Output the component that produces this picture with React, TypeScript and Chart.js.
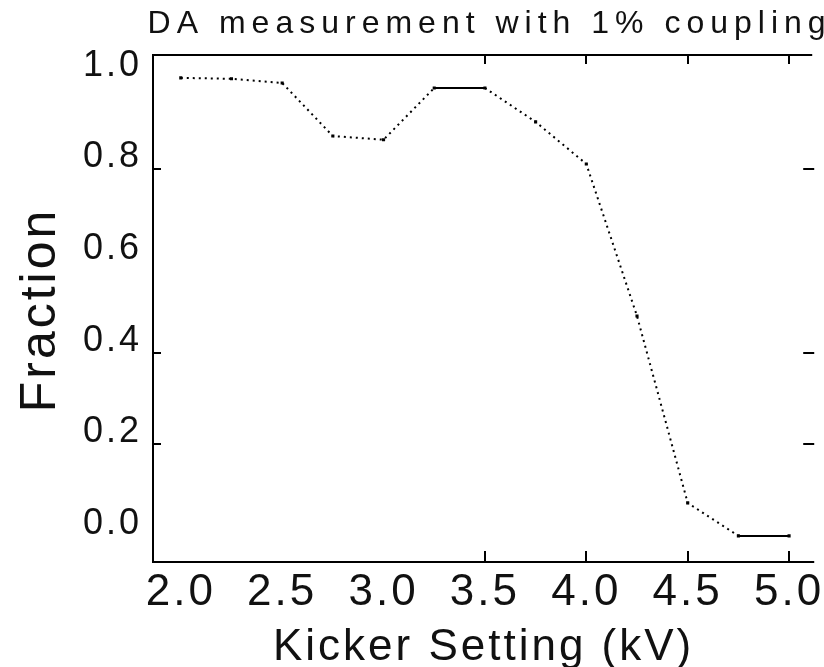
import React, { useEffect, useRef } from "react";
import { Chart, registerables } from "chart.js";

Chart.register(...registerables);

// ---- data ----
const kickerKV = [2.0, 2.25, 2.5, 2.75, 3.0, 3.25, 3.5, 3.75, 4.0, 4.25, 4.5, 4.75, 5.0];
const fraction = [1.0, 0.998, 0.989, 0.873, 0.865, 0.978, 0.978, 0.904, 0.812, 0.48, 0.072, 0.0, 0.0];
const xTickMarks = [3.5, 4.0, 4.5, 5.0];
const yTickMarks = [0.2, 0.4, 0.8];
const titleText = "DA measurement with 1% coupling";
const xTitle = "Kicker Setting (kV)";
const yTitle = "Fraction";

const FONT = '"Liberation Sans", Arial, sans-serif';

const framePlugin = {
  id: "frame",
  beforeDraw(chart: any) {
    chart.ctx.letterSpacing = "3px";
  },
  afterDraw(chart: any) {
    const ctx = chart.ctx;
    const { left, right, top, bottom } = chart.chartArea;
    const xs = chart.scales.x;
    const ys = chart.scales.y;
    ctx.save();
    ctx.letterSpacing = "0px";
    ctx.strokeStyle = "#000";
    ctx.lineWidth = 2;
    ctx.setLineDash([]);
    // frame: left, top, bottom
    ctx.beginPath();
    ctx.moveTo(right - 2, top);
    ctx.lineTo(left, top);
    ctx.lineTo(left, bottom);
    ctx.lineTo(right, bottom);
    ctx.stroke();
    // tick marks (inward)
    ctx.beginPath();
    xTickMarks.forEach((v) => {
      const px = Math.round(xs.getPixelForValue(v));
      ctx.moveTo(px, bottom);
      ctx.lineTo(px, bottom - 11);
      ctx.moveTo(px, top);
      ctx.lineTo(px, top + 9);
    });
    yTickMarks.forEach((v) => {
      const py = Math.round(ys.getPixelForValue(v));
      ctx.moveTo(left, py);
      ctx.lineTo(left + 8, py);
      ctx.moveTo(right, py);
      ctx.lineTo(right - 11, py);
    });
    ctx.stroke();

    ctx.fillStyle = "#111";
    // title
    ctx.letterSpacing = "6px";
    ctx.font = `32px ${FONT}`;
    ctx.textAlign = "center";
    ctx.textBaseline = "alphabetic";
    ctx.fillText(titleText, (left + right) / 2 + 6, 33);
    // x title
    ctx.letterSpacing = "3px";
    ctx.font = `44px ${FONT}`;
    ctx.fillText(xTitle, (left + right) / 2, 660);
    // y title
    ctx.translate(55, 310);
    ctx.rotate(-Math.PI / 2);
    ctx.letterSpacing = "3px";
    ctx.font = `50px ${FONT}`;
    ctx.fillText(yTitle, 0, 0);
    ctx.restore();
    ctx.letterSpacing = "0px";
  },
};

export default function App() {
  const ref = useRef<HTMLCanvasElement | null>(null);

  useEffect(() => {
    document.body.style.margin = "0";
    const canvas = ref.current;
    if (!canvas) return;
    const chart = new Chart(canvas, {
      type: "line",
      data: {
        datasets: [
          {
            data: kickerKV.map((x, i) => ({ x, y: fraction[i] })),
            borderColor: "#000",
            backgroundColor: "#000",
            borderWidth: 2,
            borderDash: [2, 4],
            pointStyle: "rect",
            pointRadius: 2.2,
            pointBorderWidth: 0,
            tension: 0,
            fill: false,
            segment: {
              borderDash: (c: any) => (c.p0.parsed.y === c.p1.parsed.y ? [] : [2, 4]),
            },
          } as any,
        ],
      },
      options: {
        responsive: false,
        animation: false,
        layout: { padding: { top: 55, right: 9, left: 0, bottom: 0 } },
        plugins: {
          legend: { display: false },
          title: { display: false },
          tooltip: { enabled: false },
        },
        scales: {
          x: {
            type: "linear",
            min: 1.863,
            max: 5.124,
            grid: { display: false, drawTicks: false },
            border: { display: false },
            afterFit: (s: any) => {
              s.height = 105;
            },
            ticks: {
              stepSize: 0.5,
              includeBounds: false,
              autoSkip: false,
              maxRotation: 0,
              padding: 4,
              color: "#111",
              font: { family: FONT, size: 44 },
              callback: (v: any) => Number(v).toFixed(1),
            },
          },
          y: {
            type: "linear",
            min: -0.057,
            max: 1.05,
            grid: { display: false, drawTicks: false },
            border: { display: false },
            afterFit: (s: any) => {
              s.width = 153;
            },
            ticks: {
              stepSize: 0.2,
              includeBounds: false,
              padding: 11,
              labelOffset: -12,
              color: "#111",
              font: { family: FONT, size: 36 },
              callback: (v: any) => Number(v).toFixed(1),
            },
          },
        },
      },
      plugins: [framePlugin],
    });
    return () => chart.destroy();
  }, []);

  return (
    <div style={{ width: 824, height: 667 }}>
      <canvas ref={ref} width={824} height={667} style={{ display: "block" }} />
    </div>
  );
}
